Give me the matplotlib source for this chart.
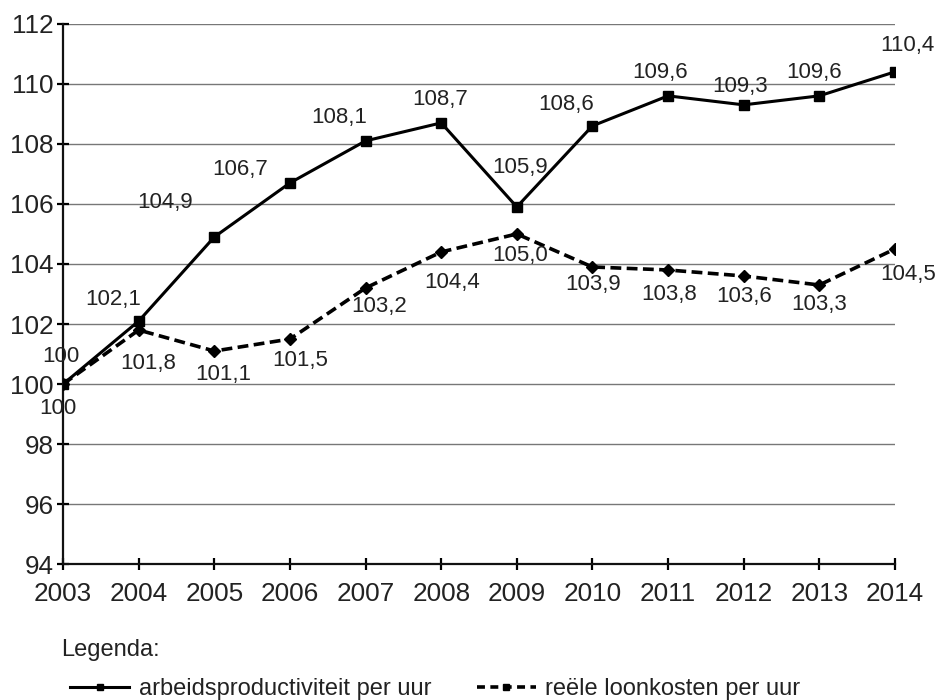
import matplotlib
matplotlib.use("Agg")
import matplotlib.pyplot as plt
from matplotlib.lines import Line2D

plt.rcParams["font.family"] = ["Liberation Sans", "DejaVu Sans"]

# data
years = [2003, 2004, 2005, 2006, 2007, 2008, 2009, 2010, 2011, 2012, 2013, 2014]
productiviteit = [100, 102.1, 104.9, 106.7, 108.1, 108.7, 105.9, 108.6, 109.6, 109.3, 109.6, 110.4]
loonkosten = [100, 101.8, 101.1, 101.5, 103.2, 104.4, 105.0, 103.9, 103.8, 103.6, 103.3, 104.5]
yticks = [94, 96, 98, 100, 102, 104, 106, 108, 110, 112]

# label offsets in pixels
prod_off = [(-2, 28), (-26, 22), (-49, 34), (-50, 13), (-26, 23), (-1, 23),
            (3, 39), (-26, 21), (-8, 23), (-4, 18), (-5, 23), (12, 26)]
loon_off = [(-5, -24), (9, -33), (9, -23), (10, -21), (14, -19), (11, -31),
            (3, -22), (1, -18), (1, -25), (0, -21), (0, -20), (13, -26)]

def fmt(v):
    if v == 100:
        return "100"
    return f"{v:.1f}".replace(".", ",")

fig = plt.figure(figsize=(9.42, 7.0), dpi=100)
ax = fig.add_axes([0.067, 0.194, 0.883, 0.772])

txt = "#222222"
ax.plot(years, productiviteit, color="black", lw=2.2, marker="s", ms=7, zorder=3)
ax.plot(years, loonkosten, color="black", lw=2.6, ls=(0, (3, 1.5)), marker="D", ms=6, zorder=3)

for x, v, (dx, dy) in zip(years, productiviteit, prod_off):
    ax.annotate(fmt(v), (x, v), xytext=(dx, dy), textcoords="offset pixels",
                ha="center", va="center", fontsize=16, color=txt)
for x, v, (dx, dy) in zip(years, loonkosten, loon_off):
    ax.annotate(fmt(v), (x, v), xytext=(dx, dy), textcoords="offset pixels",
                ha="center", va="center", fontsize=16, color=txt)

ax.set_xlim(2003, 2014)
ax.set_ylim(94, 112)
ax.set_xticks(years)
ax.set_yticks(yticks)
ax.grid(axis="y", color="#777777", lw=1)
ax.set_axisbelow(True)
for s in ["top", "right"]:
    ax.spines[s].set_visible(False)
for s in ["left", "bottom"]:
    ax.spines[s].set_linewidth(1.6)
    ax.spines[s].set_color("#111111")
ax.tick_params(direction="inout", length=9, width=1.6, labelsize=18.8, labelcolor=txt)
ax.tick_params(axis="x", pad=8)
ax.tick_params(axis="y", pad=2.5)
ax.spines["bottom"].set_zorder(4)

fig.text(0.065, 0.072, "Legenda:", fontsize=17, color=txt, va="center")
handles = [Line2D([], [], color="black", lw=2.2, marker="s", ms=5),
           Line2D([], [], color="black", lw=2.6, ls=(0, (2.2, 1.5)), marker="s", ms=5)]
fig.legend(handles, ["arbeidsproductiviteit per uur", "reële loonkosten per uur"],
           loc="center left", bbox_to_anchor=(0.052, 0.016), ncol=2, frameon=False,
           fontsize=17, handlelength=2.5, handletextpad=0.42, columnspacing=1.9,
           labelcolor=txt)

fig.savefig("out.png", dpi=100)
